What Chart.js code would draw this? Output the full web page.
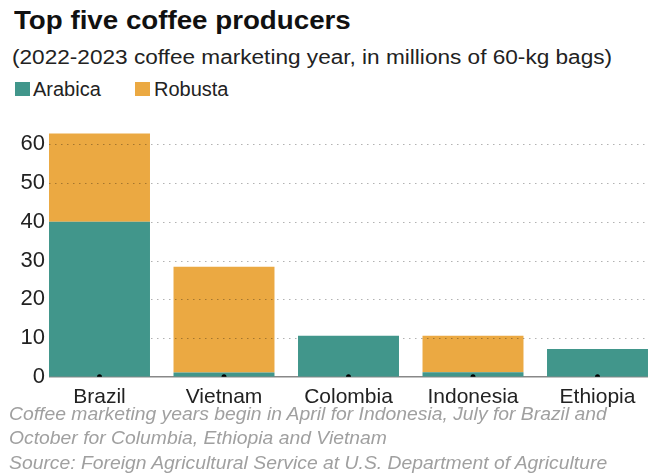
<!DOCTYPE html>
<html>
<head>
<meta charset="utf-8">
<script src="https://cdn.jsdelivr.net/npm/chart.js@4/dist/chart.umd.min.js"></script>
<style>
  html, body { margin: 0; padding: 0; background: #fff; }
  body { width: 669px; height: 476px; position: relative; overflow: hidden; font-family: "Liberation Sans", Arial, sans-serif; }
  .t { position: absolute; white-space: nowrap; line-height: 1; transform-origin: 0 0; }
  #title { left: 14px; top: 7px; font-size: 26px; font-weight: bold; color: #111; transform: scaleX(1.066); }
  #subtitle { left: 12px; top: 47px; font-size: 20px; color: #222; transform: scaleX(1.13); }
  .sw { position: absolute; top: 82px; width: 15px; height: 14px; }
  .lg { top: 79px; font-size: 20px; color: #222; }
  #wrap { position: absolute; left: 0; top: 72px; width: 669px; height: 338px; }
  .note { left: 9px; font-size: 18.5px; font-style: italic; color: #a0a0a0; transform: scaleX(1.045); }
</style>
</head>
<body>
<div id="title" class="t">Top five coffee producers</div>
<div id="subtitle" class="t">(2022-2023 coffee marketing year, in millions of 60-kg bags)</div>
<div class="sw" style="left:15px;background:#41968b"></div>
<div class="t lg" style="left:33px">Arabica</div>
<div class="sw" style="left:135px;background:#eba942"></div>
<div class="t lg" style="left:154px">Robusta</div>
<div id="wrap"><canvas id="c" width="669" height="338"></canvas></div>
<div class="note t" style="top:405px">Coffee marketing years begin in April for Indonesia, July for Brazil and</div>
<div class="note t" style="top:429px">October for Columbia, Ethiopia and Vietnam</div>
<div class="note t" style="top:454px">Source: Foreign Agricultural Service at U.S. Department of Agriculture</div>
<script>
const countries = ["Brazil", "Vietnam", "Colombia", "Indonesia", "Ethiopia"];
const arabica = [40.0, 1.1, 10.6, 1.2, 7.2];
const robusta = [22.8, 27.3, 0, 9.4, 0];
const yTicks = [0, 10, 20, 30, 40, 50, 60];

// Dotted grid and baseline spanning only the bar range, drawn above the bars
const rangeGrid = {
  id: 'rangeGrid',
  afterDatasetDraw(chart, args) {
    if (args.index !== 1) return;
    const metaA = chart.getDatasetMeta(0).data;
    const first = metaA[0], last = metaA[metaA.length - 1];
    const x0 = first.x - first.width / 2, x1 = last.x + last.width / 2;
    const y = chart.scales.y, ctx = chart.ctx;
    ctx.save();
    ctx.lineWidth = 1;
    ctx.strokeStyle = 'rgba(0,0,0,0.3)';
    ctx.setLineDash([1.5, 4.5]);
    y.ticks.forEach(t => {
      if (t.value === 0) return;
      const py = Math.round(y.getPixelForValue(t.value)) + 0.5;
      ctx.beginPath(); ctx.moveTo(x0, py); ctx.lineTo(x1, py); ctx.stroke();
    });
    ctx.setLineDash([]);
    ctx.strokeStyle = '#888';
    ctx.lineWidth = 1.5;
    const by = y.getPixelForValue(0);
    ctx.beginPath(); ctx.moveTo(x0, by); ctx.lineTo(x1, by); ctx.stroke();
    ctx.restore();
  }
};

new Chart(document.getElementById('c'), {
  type: 'bar',
  data: {
    labels: countries,
    datasets: [
      { label: 'Arabica', data: arabica, backgroundColor: '#41968b', stack: 'a', order: 2 },
      { label: 'Robusta', data: robusta, backgroundColor: '#eba942', stack: 'a', order: 2 },
      { type: 'line', label: 'dots', data: countries.map(() => 0), stack: 'dots', showLine: false,
        pointRadius: 2.5, pointBackgroundColor: '#000', pointBorderWidth: 0, order: 0 }
    ]
  },
  plugins: [rangeGrid],
  options: {
    responsive: false,
    animation: false,
    datasets: { bar: { categoryPercentage: 1, barPercentage: 0.811 } },
    layout: { padding: { left: 14, right: 9.25, top: 53, bottom: 0 } },
    plugins: {
      tooltip: { enabled: false },
      legend: { display: false }
    },
    scales: {
      x: {
        stacked: true,
        grid: { display: false },
        border: { display: false },
        ticks: { color: '#222', padding: 0, font: { family: 'Liberation Sans', size: 21 } }
      },
      y: {
        stacked: true,
        min: 0, max: 65,
        afterBuildTicks: (s) => { s.ticks = yTicks.map(v => ({ value: v })); },
        afterFit: (s) => { s.width = 23.25; },
        border: { display: false },
        grid: { display: false, drawTicks: false },
        ticks: { color: '#222', mirror: true, crossAlign: 'far', padding: -16.7,
                 font: { family: 'Liberation Sans', size: 22 } }
      }
    }
  }
});
</script>
</body>
</html>
